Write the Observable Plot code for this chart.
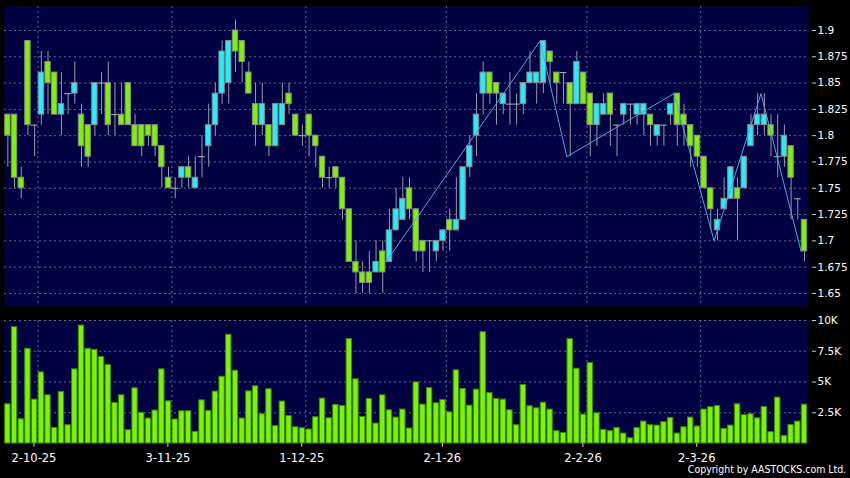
<!DOCTYPE html>
<html><head><meta charset="utf-8">
<script src="https://cdn.jsdelivr.net/npm/d3@7"></script>
<script src="https://cdn.jsdelivr.net/npm/@observablehq/plot@0.6"></script>
<style>
html,body{margin:0;padding:0;background:#000;}
#chart{position:relative;width:850px;height:478px;background:#000;overflow:hidden;font-family:"DejaVu Sans",sans-serif;}
#chart svg{position:absolute;left:0;}
#copy{position:absolute;right:4px;top:463px;color:#fff;font-size:11px;line-height:14px;transform:scaleX(0.855);transform-origin:right center;white-space:nowrap;}
</style></head><body>
<div id="chart"><div id="copy">Copyright by AASTOCKS.com Ltd.</div></div>
<script>
// ---- data (one entry per trading day) ----
const openP = [1.82,1.82,1.76,1.89,1.81,1.82,1.87,1.86,1.82,1.84,1.84,1.82,1.81,1.81,1.85,1.85,1.82,1.82,1.85,1.81,
1.81,1.81,1.81,1.79,1.76,1.75,1.76,1.77,1.75,1.78,1.79,1.81,1.84,1.85,1.90,1.89,1.86,1.83,1.81,1.81,
1.79,1.81,1.84,1.82,1.80,1.82,1.80,1.78,1.76,1.77,1.76,1.73,1.68,1.67,1.67,1.67,1.69,1.68,1.71,1.72,
1.75,1.73,1.70,1.70,1.69,1.70,1.72,1.71,1.72,1.77,1.80,1.84,1.86,1.85,1.83,1.83,1.83,1.83,1.85,1.85,
1.85,1.88,1.86,1.86,1.85,1.83,1.86,1.84,1.81,1.82,1.84,1.81,1.82,1.83,1.82,1.82,1.82,1.80,1.81,1.82,
1.84,1.82,1.81,1.80,1.78,1.75,1.71,1.73,1.74,1.75,1.75,1.79,1.81,1.81,1.81,1.78,1.78,1.79,1.74,1.72];
const highP = [1.82,1.82,1.77,1.89,1.81,1.88,1.88,1.86,1.86,1.84,1.87,1.83,1.81,1.85,1.86,1.87,1.85,1.85,1.85,1.82,
1.81,1.81,1.81,1.79,1.77,1.76,1.77,1.78,1.78,1.80,1.83,1.85,1.89,1.89,1.91,1.89,1.87,1.85,1.85,1.81,
1.83,1.85,1.85,1.82,1.81,1.82,1.80,1.78,1.77,1.77,1.76,1.73,1.70,1.68,1.69,1.70,1.70,1.73,1.75,1.76,
1.76,1.73,1.70,1.70,1.70,1.71,1.73,1.76,1.77,1.80,1.84,1.87,1.86,1.85,1.84,1.86,1.84,1.85,1.88,1.86,
1.89,1.88,1.86,1.86,1.85,1.88,1.86,1.84,1.83,1.84,1.84,1.81,1.83,1.83,1.83,1.83,1.82,1.81,1.81,1.83,
1.84,1.83,1.81,1.80,1.78,1.75,1.73,1.76,1.77,1.76,1.78,1.82,1.84,1.84,1.82,1.82,1.81,1.79,1.74,1.72];
const lowP = [1.77,1.75,1.74,1.80,1.78,1.81,1.82,1.82,1.80,1.82,1.83,1.77,1.77,1.80,1.82,1.80,1.80,1.81,1.81,1.79,
1.78,1.79,1.78,1.75,1.75,1.74,1.75,1.75,1.75,1.76,1.77,1.80,1.83,1.83,1.86,1.85,1.84,1.79,1.80,1.78,
1.79,1.81,1.82,1.80,1.79,1.78,1.77,1.75,1.75,1.75,1.72,1.68,1.65,1.65,1.65,1.67,1.65,1.68,1.71,1.72,
1.72,1.68,1.67,1.67,1.68,1.69,1.69,1.71,1.72,1.76,1.78,1.82,1.83,1.81,1.82,1.81,1.81,1.82,1.85,1.83,
1.84,1.85,1.83,1.83,1.78,1.83,1.83,1.78,1.79,1.82,1.79,1.78,1.81,1.81,1.81,1.80,1.79,1.79,1.79,1.81,
1.79,1.79,1.77,1.77,1.75,1.71,1.70,1.73,1.74,1.70,1.75,1.79,1.80,1.80,1.78,1.76,1.77,1.72,1.72,1.68];
const closeP = [1.80,1.76,1.75,1.81,1.81,1.86,1.85,1.82,1.83,1.84,1.85,1.79,1.78,1.85,1.85,1.81,1.82,1.81,1.81,1.79,
1.79,1.80,1.79,1.77,1.75,1.75,1.77,1.76,1.76,1.78,1.81,1.84,1.88,1.89,1.88,1.87,1.84,1.81,1.83,1.79,
1.83,1.83,1.83,1.80,1.80,1.80,1.79,1.76,1.76,1.76,1.73,1.68,1.67,1.66,1.66,1.68,1.67,1.71,1.73,1.74,
1.73,1.69,1.69,1.70,1.70,1.71,1.71,1.72,1.77,1.79,1.82,1.86,1.84,1.84,1.84,1.83,1.83,1.85,1.86,1.86,
1.89,1.87,1.85,1.86,1.83,1.87,1.83,1.81,1.83,1.83,1.82,1.81,1.83,1.83,1.83,1.83,1.81,1.81,1.81,1.83,
1.81,1.81,1.79,1.78,1.75,1.73,1.72,1.74,1.77,1.74,1.78,1.81,1.82,1.82,1.80,1.78,1.80,1.76,1.74,1.69];
// volume in thousands
const volumeK = [3.19,9.46,1.97,7.70,3.57,5.78,3.92,1.27,4.19,1.49,6.03,9.59,7.70,7.62,7.03,6.38,3.30,3.92,1.08,4.49,
2.49,2.03,2.68,6.03,3.43,1.95,2.62,2.62,0.95,3.51,2.65,4.22,5.43,8.84,5.92,2.03,4.24,4.65,2.38,4.41,
1.43,3.41,2.24,1.32,1.24,1.14,2.14,3.65,2.05,3.14,3.05,8.49,5.22,2.16,3.62,1.62,3.92,2.70,2.11,2.76,
1.22,4.97,3.16,4.51,3.27,3.54,2.54,5.95,4.43,3.08,4.38,9.05,4.11,3.62,3.57,2.70,1.49,4.76,3.03,2.86,
3.32,2.76,1.00,0.86,8.49,6.08,2.35,6.54,2.46,1.11,1.00,1.27,0.81,0.43,1.27,1.78,1.49,1.46,1.73,2.08,
0.81,1.32,2.11,1.38,2.76,2.95,3.05,1.19,1.46,3.19,2.30,2.38,2.05,2.97,0.92,3.73,0.62,1.51,1.78,3.16];
const dateIdx = [5, 25, 45, 66, 87, 104];
const dateLabels = ["2-10-25", "3-11-25", "1-12-25", "2-1-26", "2-2-26", "2-3-26"];
const priceTicks = [1.65, 1.675, 1.7, 1.725, 1.75, 1.775, 1.8, 1.825, 1.85, 1.875, 1.9];
const priceTickLabels = ["1.65", "1.675", "1.7", "1.725", "1.75", "1.775", "1.8", "1.825", "1.85", "1.875", "1.9"];
const volTicks = [2.5, 5, 7.5, 10];
const volTickLabels = ["2.5K", "5K", "7.5K", "10K"];
const zigzagIdx = [57, 80, 84, 100, 106, 113, 119];
const zigzagPrice = [1.68, 1.89, 1.78, 1.84, 1.70, 1.84, 1.69];

// ---- build ----
const candles = openP.map((o, i) => ({i, o, h: highP[i], l: lowP[i], c: closeP[i]}));
const vols = volumeK.map((v, i) => ({i, v}));
const zig = zigzagIdx.map((i, k) => ({i, p: zigzagPrice[k]}));
const priceLab = new Map(priceTicks.map((t, k) => [t, priceTickLabels[k]]));
const volLab = new Map(volTicks.map((t, k) => [t, volTickLabels[k]]));
const dateLab = new Map(dateIdx.map((t, k) => [t, dateLabels[k]]));

const BG = "#000042", GRID = "#66668f", UP = "#22f0f8", DOWN = "#7cf400";
const xDomain = [0, 120.1];
const dash = {stroke: GRID, strokeDasharray: "2,3", strokeWidth: 1};

const price = Plot.plot({
  width: 850, height: 312,
  marginLeft: 4, marginRight: 42, marginTop: 6, marginBottom: 6,
  style: {background: "transparent", color: "#fff", fontFamily: "DejaVu Sans, sans-serif", overflow: "visible"},
  x: {domain: xDomain, axis: null},
  y: {domain: [1.6376, 1.9228], axis: null},
  marks: [
    Plot.frame({fill: BG, stroke: null}),
    Plot.ruleY(priceTicks, dash),
    Plot.ruleX(dateIdx, dash),
    Plot.ruleX(candles, {x: d => d.i + 0.5, y1: "l", y2: "h", stroke: "#9a9aa6"}),
    Plot.rect(candles.filter(d => d.o !== d.c), {
      x1: d => d.i + 0.1, x2: d => d.i + 0.9, y1: "o", y2: "c",
      fill: d => d.c > d.o ? UP : DOWN, stroke: "#8a8a8a", strokeWidth: 1
    }),
    Plot.ruleY(candles.filter(d => d.o === d.c), {x1: d => d.i, x2: d => d.i + 1, y: "o", stroke: "#b0b0b8"}),
    Plot.line(zig, {x: "i", y: "p", stroke: "#4aa8e6", strokeWidth: 1}),
    Plot.axisY(priceTicks, {anchor: "right", label: null, tickSize: 4, dx: 3, tickPadding: 2,
      tickFormat: d => priceLab.get(d), fontSize: 10.5, color: "#fff", stroke: "#ccc"})
  ]
});
price.style.top = "0px";

const vol = Plot.plot({
  width: 850, height: 166,
  marginLeft: 4, marginRight: 42, marginTop: 8, marginBottom: 35,
  style: {background: "transparent", color: "#fff", fontFamily: "DejaVu Sans, sans-serif", overflow: "visible"},
  x: {domain: xDomain, axis: null},
  y: {domain: [0, 10], axis: null},
  marks: [
    Plot.frame({fill: BG, stroke: null}),
    Plot.ruleY(volTicks, dash),
    Plot.ruleX(dateIdx, dash),
    Plot.rect(vols, {x1: d => d.i + 0.1, x2: d => d.i + 0.9, y1: 0, y2: "v",
      fill: DOWN, stroke: "#3c8a00", strokeWidth: 1}),
    Plot.axisY(volTicks, {anchor: "right", label: null, tickSize: 4, dx: 3, tickPadding: 2,
      tickFormat: d => volLab.get(d), fontSize: 10.5, color: "#fff", stroke: "#ccc"}),
    Plot.axisX(dateIdx, {anchor: "bottom", label: null, tickSize: 4, dx: -4, tickPadding: 6,
      tickFormat: d => dateLab.get(d), fontSize: 11.5, color: "#fff", stroke: "#ccc"})
  ]
});
vol.style.top = "312px";

const chart = document.getElementById("chart");
chart.appendChild(price);
chart.appendChild(vol);
</script>
</body></html>
